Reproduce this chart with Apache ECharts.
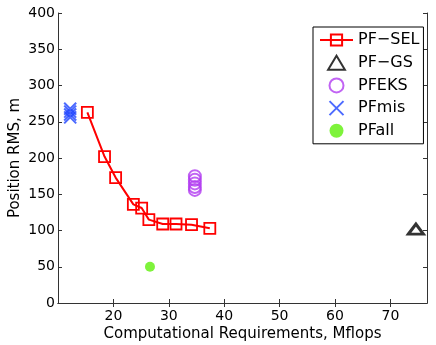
<!DOCTYPE html>
<html>
<head>
<meta charset="utf-8">
<script src="https://cdn.jsdelivr.net/npm/echarts@6/dist/echarts.min.js"></script>
<style>
  html, body { margin: 0; padding: 0; background: #fff; }
  #main { width: 436px; height: 345px; }
</style>
</head>
<body>
<div id="main"></div>
<script>
// data
var selX = [15.3, 18.4, 20.4, 23.6, 25.1, 26.4, 28.9, 31.3, 34.1, 37.4];
var selY = [263, 202, 173, 136, 131, 115, 109, 109, 108, 103];
var gsX = [74.6];
var gsY = [102];
var eksX = [34.7, 34.7, 34.7, 34.7, 34.7];
var eksY = [175, 170, 165, 160, 156];
var misX = [12.2, 12.2, 12.2, 12.2];
var misY = [256, 260, 264, 268];
var allX = [26.6];
var allY = [50];
var xTicks = [20, 30, 40, 50, 60, 70];
var names = ['PF\u2212SEL', 'PF\u2212GS', 'PFEKS', 'PFmis', 'PFall'];

function pairs(xs, ys) {
  return xs.map(function (x, i) { return [x, ys[i]]; });
}

var font = 'DejaVu Sans';
var axisCol = '#333';
var triangle = 'path://M0,10L6,0L12,10Z';

var chart = echarts.init(document.getElementById('main'));

var option = {
  animation: false,
  textStyle: { fontFamily: font },
  grid: { left: 58, top: 13, right: 9, bottom: 42, outerBoundsMode: 'none', containLabel: false },
  legend: {
    data: names,
    orient: 'vertical',
    left: 313,
    top: 27,
    padding: [5, 4, 5, 6],
    itemWidth: 33,
    itemHeight: 14,
    itemGap: 6.7,
    borderColor: '#000',
    borderWidth: 1,
    backgroundColor: '#fff',
    textStyle: { fontSize: 16, color: '#000', fontFamily: font }
  },
  xAxis: [
    {
      type: 'value', min: 10, max: 76.6,
      name: 'Computational Requirements, Mflops',
      nameLocation: 'middle', nameGap: 24, nameMoveOverlap: false,
      nameTextStyle: { fontSize: 15, color: '#000' },
      axisLine: { show: true, lineStyle: { color: axisCol } },
      axisTick: { inside: true, length: 4, customValues: xTicks, lineStyle: { color: axisCol } },
      axisLabel: { customValues: xTicks, fontSize: 14, color: '#000', margin: 6 },
      splitLine: { show: false }
    },
    {
      type: 'value', min: 10, max: 76.6, position: 'top',
      axisLine: { show: true, lineStyle: { color: axisCol } },
      axisTick: { inside: true, length: 4, customValues: xTicks, lineStyle: { color: axisCol } },
      axisLabel: { show: false },
      splitLine: { show: false }
    }
  ],
  yAxis: [
    {
      type: 'value', min: 0, max: 400, interval: 50,
      name: 'Position RMS, m',
      nameLocation: 'middle', nameGap: 35, nameMoveOverlap: false,
      nameTextStyle: { fontSize: 15, color: '#000' },
      axisLine: { show: true, lineStyle: { color: axisCol } },
      axisTick: { show: true, inside: true, length: 4, lineStyle: { color: axisCol } },
      axisLabel: { fontSize: 14, color: '#000', margin: 3 },
      splitLine: { show: false }
    },
    {
      type: 'value', min: 0, max: 400, interval: 50, position: 'right',
      axisLine: { show: true, lineStyle: { color: axisCol } },
      axisTick: { show: true, inside: true, length: 4, lineStyle: { color: axisCol } },
      axisLabel: { show: false },
      splitLine: { show: false }
    }
  ],
  series: [
    {
      name: names[0], type: 'line', data: pairs(selX, selY),
      symbol: 'rect', symbolSize: 11, showAllSymbol: true,
      lineStyle: { color: '#ff0000', width: 2 },
      itemStyle: { color: 'rgba(0,0,0,0)', borderColor: '#ff0000', borderWidth: 1.8 },
      z: 3
    },
    {
      name: names[1], type: 'scatter', data: pairs(gsX, gsY),
      symbol: triangle, symbolSize: [15, 12], symbolKeepAspect: true,
      itemStyle: { color: '#fff', borderColor: '#000', borderWidth: 3 }
    },
    {
      name: names[2], type: 'scatter', data: pairs(eksX, eksY),
      symbol: 'circle', symbolSize: 12,
      itemStyle: { color: 'rgba(0,0,0,0)', borderColor: '#b23cf0', borderWidth: 2 }
    },
    {
      name: names[3], type: 'scatter', data: pairs(misX, misY),
      symbol: 'path://M0,0L10,10M10,0L0,10', symbolSize: 12,
      itemStyle: { color: 'rgba(0,0,0,0)', borderColor: '#1f45ff', borderWidth: 2 }
    },
    {
      name: names[4], type: 'scatter', data: pairs(allX, allY),
      symbol: 'circle', symbolSize: 10,
      itemStyle: { color: '#5ef00a' }
    }
  ]
};

chart.setOption(option);
</script>
</body>
</html>
